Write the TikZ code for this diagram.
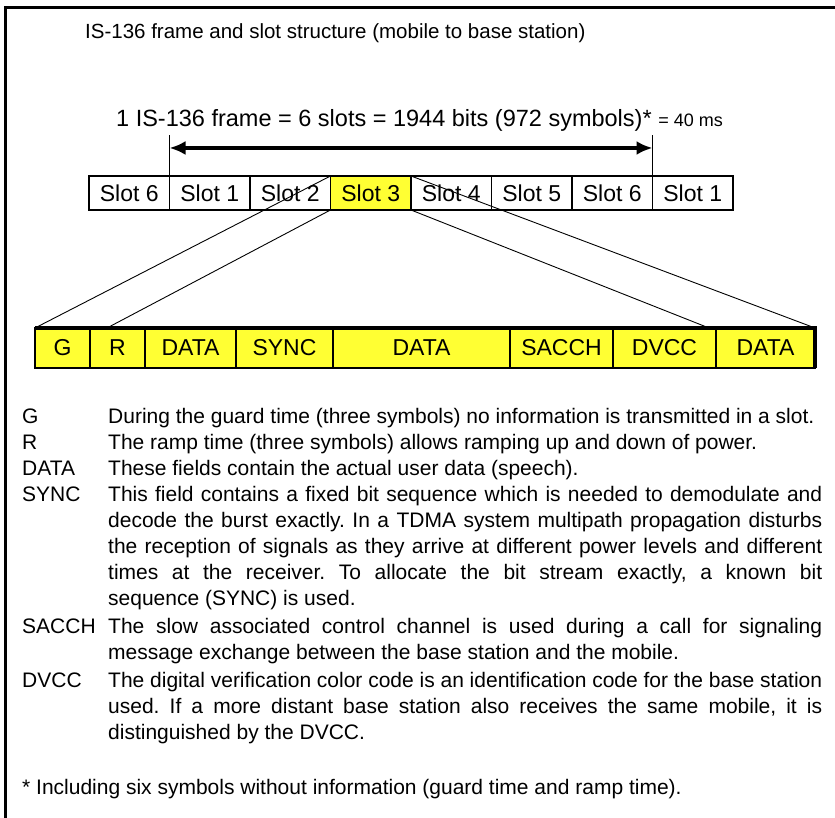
\documentclass[tikz,border=0pt]{standalone}
\usepackage{fontspec}
\setmainfont{Liberation Sans}
\usepackage{tikz}
\usetikzlibrary{positioning,arrows.meta}
\definecolor{fieldclr}{rgb}{1, 1, 0.2}
\newcommand\titlefont{\fontsize{20.5}{24}\selectfont}
\newcommand\eqfont{\fontsize{23.5}{26}\selectfont}
\newcommand\msfont{\fontsize{18}{20}\selectfont}
\newcommand\slotfont{\fontsize{23}{26}\selectfont}
\newcommand\legfont{\fontsize{21}{26}\selectfont\frenchspacing}
\tikzset{ %
  ,x=1pt, y=1pt
  ,>={Latex[length=16pt, width=14pt]}
  ,slot/.style={draw, line width=1.2pt, minimum width=80.5pt, minimum height=34pt, inner sep=0, outer sep=0, font=\slotfont}
  ,hot/.style={slot, fill=fieldclr}
  ,field/.style={draw, line width=1.2pt, fill=fieldclr, minimum height=40pt, inner sep=0, outer sep=0, font=\slotfont}
  ,key/.style={anchor=base west, inner sep=0, font=\legfont}
  ,desc/.style={anchor=base west, inner sep=0, text width=714pt, align=justify, font=\legfont}
  ,fan/.style={line width=0.9pt}
}

\begin{document}
\begin{tikzpicture}
  \useasboundingbox (0,0) rectangle (835,818);
  \draw[line width=3pt] (835,810) -- (5,810) -- (5,0);
  \node[anchor=base west, inner sep=0, font=\titlefont] (title) at (85,779) {IS-136 frame and slot structure (mobile to base station)};
  \node[anchor=west, inner sep=0, font=\eqfont] (frame) at (116,698) {1 IS-136 frame = 6 slots = 1944 bits (972 symbols)* {\msfont = 40 ms}};
  % slot row
  \draw
    node[slot, anchor=west] (s0) at (89,625) {Slot 6}
    node[slot, right=0pt of s0] (s1) {Slot 1}
    node[slot, right=0pt of s1] (s2) {Slot 2}
    node[hot, right=0pt of s2] (s3) {Slot 3}
    node[slot, right=0pt of s3] (s4) {Slot 4}
    node[slot, right=0pt of s4] (s5) {Slot 5}
    node[slot, right=0pt of s5] (s6) {Slot 6}
    node[slot, right=0pt of s6] (s7) {Slot 1};
  % frame length arrow
  \coordinate[above=41pt of s1.north west] (tl);
  \coordinate[above=41pt of s7.north west] (tr);
  \coordinate[above=28pt of s1.north west] (al);
  \coordinate[above=28pt of s7.north west] (ar);
  \draw[line width=1.2pt] (s1.north west) -- (tl) (s7.north west) -- (tr);
  \draw[<->, line width=4pt] (al) -- (ar);
  % burst of slot 3
  \draw
    node[field, minimum width=55pt, anchor=west] (f0) at (35,470) {G}
    node[field, minimum width=55pt, right=0pt of f0] (f1) {R}
    node[field, minimum width=91pt, right=0pt of f1] (f2) {DATA}
    node[field, minimum width=97pt, right=0pt of f2] (f3) {SYNC}
    node[field, minimum width=177pt, right=0pt of f3] (f4) {DATA}
    node[field, minimum width=103pt, right=0pt of f4] (f5) {SACCH}
    node[field, minimum width=103pt, right=0pt of f5] (f6) {DVCC}
    node[field, minimum width=99pt, right=0pt of f6] (f7) {DATA};
  \coordinate[right=17pt of f1.north west] (fl);
  \coordinate[left=7pt of f7.north west] (fr);
  \draw[fan] (s3.north west) -- (f0.north west) (s3.south west) -- (fl)
    (s3.south east) -- (fr) (s3.north east) -- (f7.north east);
  \draw[line width=4pt] (f0.north west) -- (f7.north east) -- (f7.south east);
  % legend
  \node[key] (kg) at (22,394) {G};
  \node[desc] (dg) at (108,394) {During the guard time (three symbols) no information is transmitted in a slot.};
  \node[key] (kr) at (22,368) {R};
  \node[desc] (dr) at (108,368) {The ramp time (three symbols) allows ramping up and down of power.};
  \node[key] (kd) at (22,342) {DATA};
  \node[desc] (dd) at (108,342) {These fields contain the actual user data (speech).};
  \node[key] (ks) at (22,316) {SYNC};
  \node[desc] (ds) at (108,316) {This field contains a fixed bit sequence which is needed to demodulate and\linebreak
    decode the burst exactly. In a TDMA system multipath propagation disturbs\linebreak
    the reception of signals as they arrive at different power levels and different\linebreak
    times at the receiver. To allocate the bit stream exactly, a known bit\linebreak
    sequence (SYNC) is used.};
  \node[key] (kc) at (22,184) {SACCH};
  \node[desc] (dc) at (108,184) {The slow associated control channel is used during a call for signaling\linebreak
    message exchange between the base station and the mobile.};
  \node[key] (kv) at (22,130) {DVCC};
  \node[desc] (dv) at (108,130) {The digital verification color code is an identification code for the base station\linebreak
    used. If a more distant base station also receives the same mobile, it is\linebreak
    distinguished by the DVCC.};
  \node[key] (note) at (22,23) {* Including six symbols without information (guard time and ramp time).};
\end{tikzpicture}
\end{document}
